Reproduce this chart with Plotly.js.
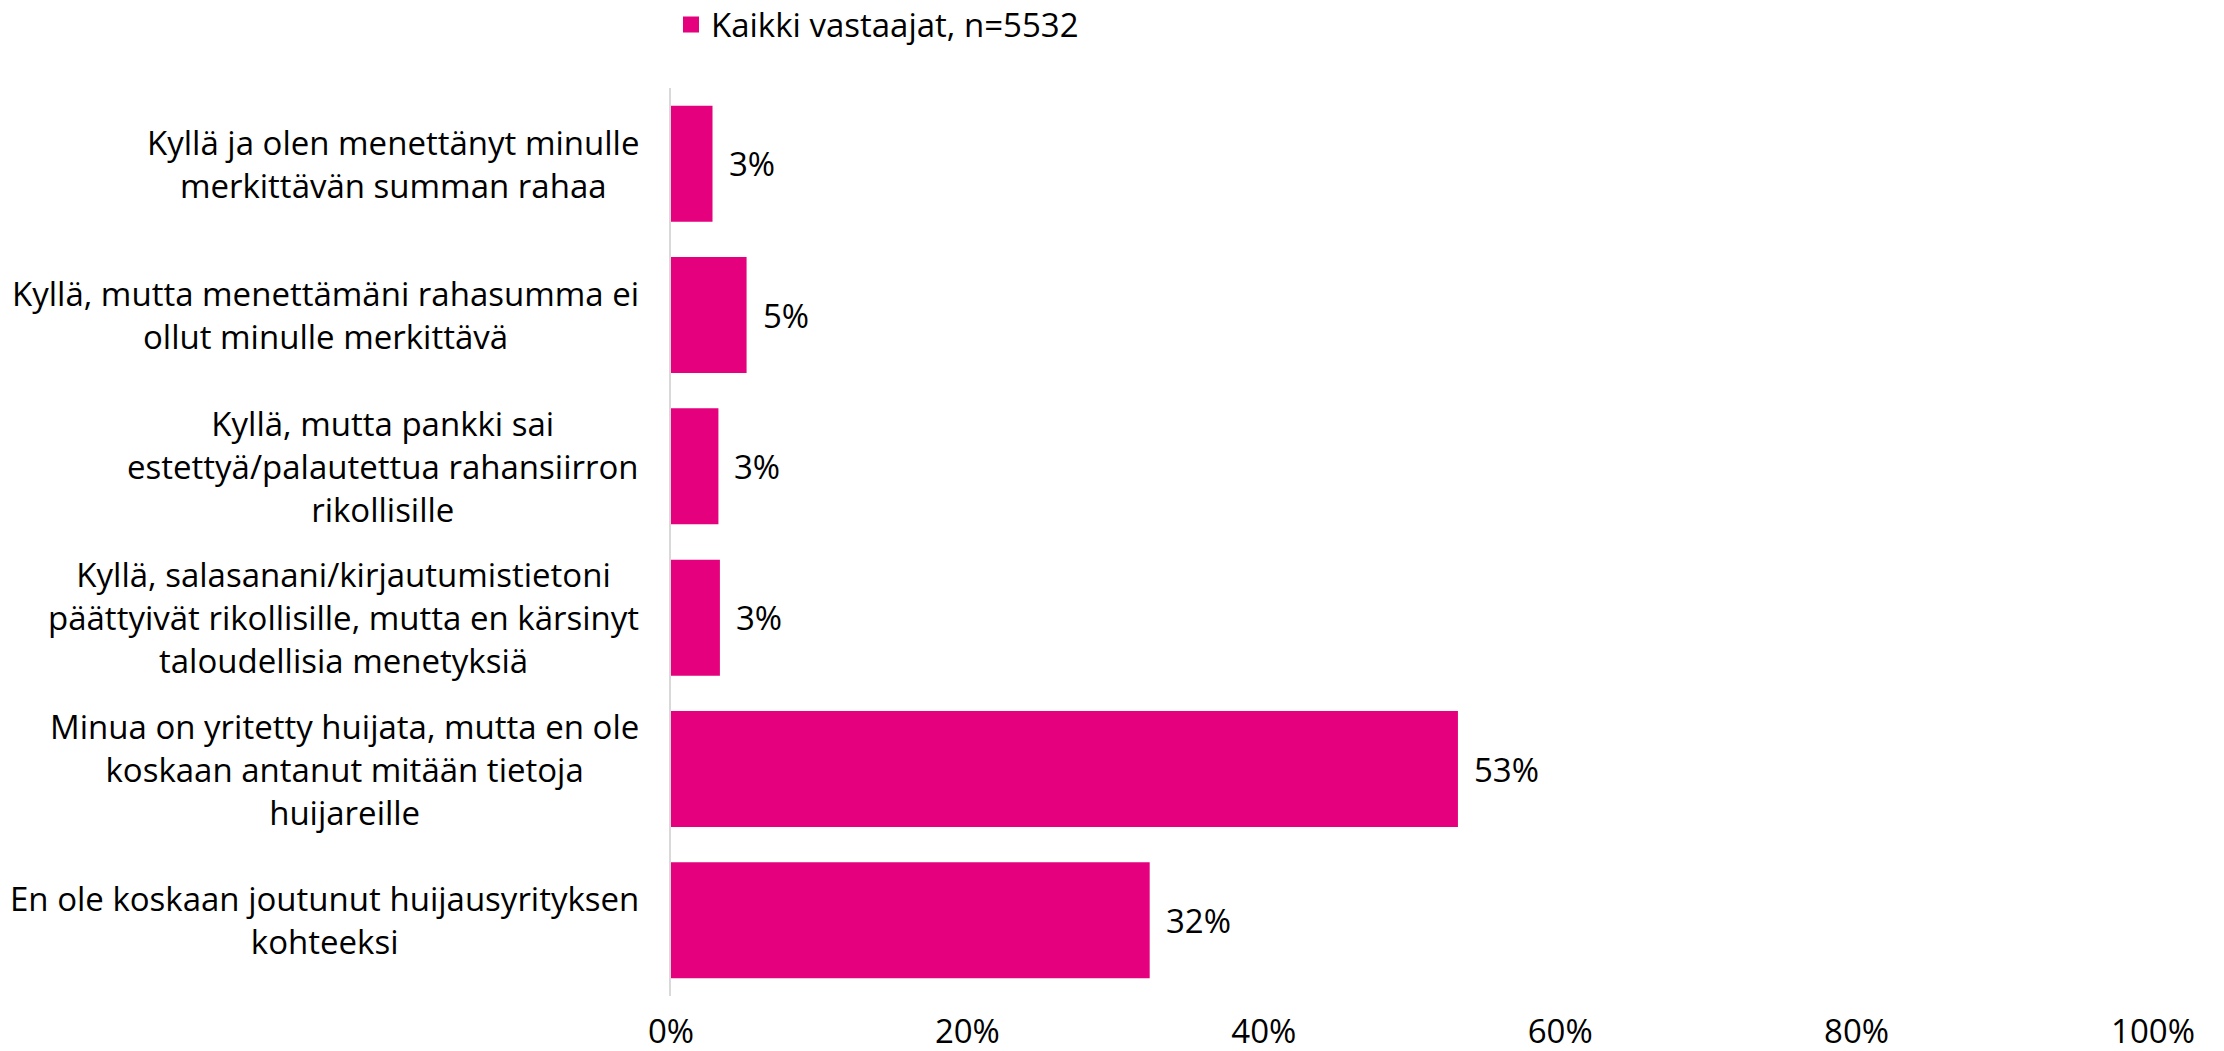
<!DOCTYPE html>
<html>
<head>
<meta charset="utf-8">
<script src="https://cdn.plot.ly/plotly-3.0.1.min.js"></script>
<style>html,body{margin:0;padding:0;background:#fff;}#chart{width:2224px;height:1051px;}</style>
</head>
<body>
<div id="chart"></div>
<script>
const categories = [
  "Kyllä ja olen menettänyt minulle<br>merkittävän summan rahaa",
  "Kyllä, mutta menettämäni rahasumma ei<br>ollut minulle merkittävä",
  "Kyllä, mutta pankki sai<br>estettyä/palautettua rahansiirron<br>rikollisille",
  "Kyllä, salasanani/kirjautumistietoni<br>päättyivät rikollisille, mutta en kärsinyt<br>taloudellisia menetyksiä",
  "Minua on yritetty huijata, mutta en ole<br>koskaan antanut mitään tietoja<br>huijareille",
  "En ole koskaan joutunut huijausyrityksen<br>kohteeksi"
];
const values = [2.8, 5.1, 3.2, 3.3, 53.1, 32.3];
const valueLabels = ["3%", "5%", "3%", "3%", "53%", "32%"];
const seriesName = "Kaikki vastaajat, n=5532";
const xTickVals = [0, 20, 40, 60, 80, 100];
const xTickText = ["0%", "20%", "40%", "60%", "80%", "100%"];

const FONT = "'Open Sans', Arial, sans-serif";
const FS = 33;
const BAR = "#E5007D";

const barTrace = {
  type: "bar",
  orientation: "h",
  x: values,
  y: categories,
  name: seriesName,
  marker: {color: BAR},
  hoverinfo: "none",
  showlegend: false
};
const legendTrace = {
  type: "scatter", mode: "markers",
  x: [null], y: [null],
  name: seriesName,
  marker: {color: BAR, symbol: "square", size: 16},
  hoverinfo: "none",
  showlegend: true
};

const annotations = [];
categories.forEach((c, i) => {
  annotations.push({
    x: 0, y: c, xref: "x", yref: "y",
    text: c, showarrow: false,
    xanchor: "right", yanchor: "middle",
    align: "center", xshift: -30,
    font: {family: FONT, size: FS, color: "#000"}
  });
  annotations.push({
    x: values[i], y: c, xref: "x", yref: "y",
    text: valueLabels[i], showarrow: false,
    xanchor: "left", yanchor: "middle",
    xshift: 14,
    font: {family: FONT, size: FS, color: "#000"}
  });
});

const layout = {
  width: 2224, height: 1051,
  margin: {l: 671, r: 71, t: 88, b: 55, pad: 0, autoexpand: false},
  paper_bgcolor: "#fff", plot_bgcolor: "#fff",
  font: {family: FONT, size: FS, color: "#000"},
  bargap: 0.233,
  showlegend: true,
  legend: {
    orientation: "h", x: 0.0, xanchor: "left", y: 1.07, yanchor: "middle",
    font: {family: FONT, size: FS, color: "#000"},
    bgcolor: "rgba(0,0,0,0)", itemwidth: 30
  },
  xaxis: {
    range: [0, 100], tickvals: xTickVals, ticktext: xTickText,
    showgrid: false, zeroline: false, showline: false,
    ticks: "outside", ticklen: 6, tickcolor: "rgba(0,0,0,0)",
    tickfont: {family: FONT, size: FS, color: "#000"},
    automargin: false, fixedrange: true
  },
  yaxis: {
    type: "category", autorange: "reversed",
    showticklabels: false, showgrid: false, zeroline: false,
    showline: true, linecolor: "#d9d9d9", linewidth: 2,
    automargin: false, fixedrange: true
  },
  annotations: annotations
};

Plotly.newPlot("chart", [barTrace, legendTrace], layout, {displayModeBar: false, staticPlot: true});
</script>
</body>
</html>
